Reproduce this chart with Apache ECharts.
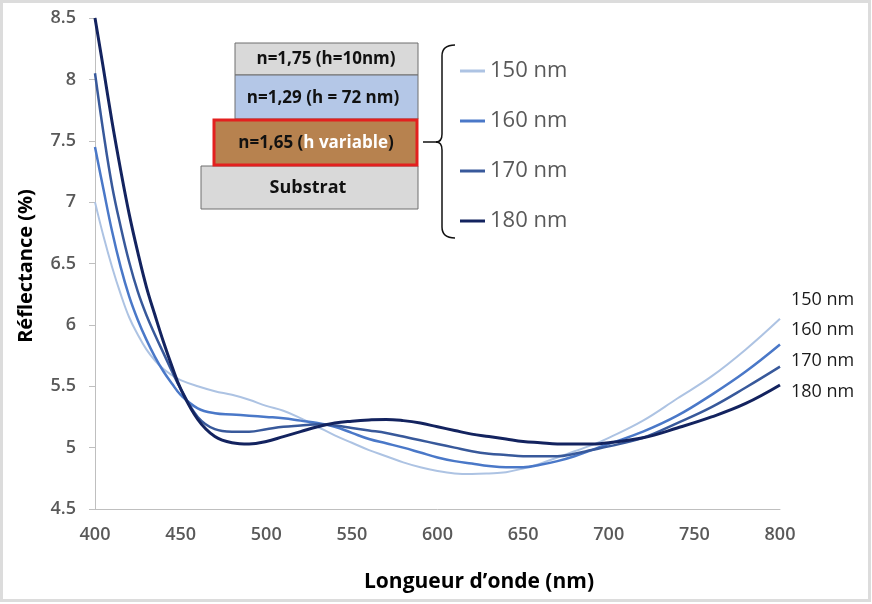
<!DOCTYPE html>
<html><head><meta charset="utf-8">
<script src="https://cdn.jsdelivr.net/npm/echarts@6/dist/echarts.min.js"></script>
<style>html,body{margin:0;padding:0;background:#fff}#c{width:872px;height:604px}</style>
</head><body><div id="c"></div>
<script>
const wavelengths = [400,405,410,415,420,425,430,435,440,445,450,460,470,480,490,500,510,520,530,540,550,560,570,580,590,600,610,620,630,640,650,660,670,680,690,700,720,740,760,780,800];
const r150 = [7.00,6.72,6.47,6.25,6.06,5.92,5.80,5.71,5.64,5.59,5.55,5.50,5.46,5.43,5.39,5.34,5.30,5.24,5.17,5.10,5.04,4.98,4.93,4.88,4.84,4.81,4.79,4.785,4.79,4.80,4.83,4.87,4.92,4.97,5.02,5.08,5.22,5.40,5.58,5.80,6.05];
const r160 = [7.45,7.10,6.76,6.47,6.23,6.04,5.88,5.74,5.62,5.52,5.43,5.32,5.28,5.27,5.26,5.25,5.24,5.22,5.20,5.17,5.12,5.07,5.035,5.00,4.96,4.92,4.89,4.87,4.85,4.84,4.84,4.86,4.89,4.93,4.98,5.03,5.13,5.26,5.43,5.62,5.84];
const r170 = [8.05,7.56,7.13,6.80,6.51,6.27,6.08,5.92,5.77,5.62,5.48,5.25,5.15,5.13,5.13,5.15,5.17,5.18,5.19,5.18,5.16,5.14,5.12,5.09,5.06,5.03,5.00,4.97,4.95,4.94,4.93,4.93,4.93,4.95,4.98,5.01,5.08,5.20,5.33,5.49,5.66];
const r180 = [8.50,8.08,7.65,7.26,6.90,6.59,6.31,6.08,5.86,5.66,5.48,5.23,5.09,5.04,5.03,5.05,5.09,5.13,5.17,5.20,5.215,5.225,5.23,5.22,5.20,5.17,5.14,5.11,5.09,5.07,5.05,5.04,5.03,5.03,5.03,5.04,5.08,5.16,5.25,5.36,5.51];
const seriesNames = ['150 nm','160 nm','170 nm','180 nm'];
const layerLabels = ['n=1,75 (h=10nm)','n=1,29 (h = 72 nm)','n=1,65 (','h variable',')','Substrat'];
const xTitle = 'Longueur d\u2019onde (nm)';
const yTitle = 'R\u00e9flectance (%)';

const FONT = '"Open Sans", sans-serif';
const colors = ['#adc3e3','#4a78c8','#38599b','#13235f'];
const widths = [2,2.5,2.5,3];
const endLabelY = [300,330,361,392];
const allSeries = [r150,r160,r170,r180];

const chart = echarts.init(document.getElementById('c'));
const braceStyle = {fill:'none',stroke:'#111',lineWidth:1.5};
const graphics = [
  {type:'rect', shape:{x:1.5,y:1.5,width:868,height:599}, style:{fill:'none',stroke:'#dcdcdc',lineWidth:3}, silent:true},
  {type:'rect', shape:{x:235,y:43,width:183,height:32}, style:{fill:'#d9d9d9',stroke:'#6f6f6f',lineWidth:1}},
  {type:'rect', shape:{x:235,y:75,width:183,height:44}, style:{fill:'#b4c7e7',stroke:'#6f6f6f',lineWidth:1}},
  {type:'rect', shape:{x:201,y:166,width:217,height:43}, style:{fill:'#d9d9d9',stroke:'#6f6f6f',lineWidth:1}},
  {type:'rect', shape:{x:214,y:120,width:203,height:45}, style:{fill:'#b7824f',stroke:'#e3201f',lineWidth:3}},
  {type:'text', x:326, y:59, style:{text:layerLabels[0], font:'bold 17px '+FONT, fill:'#111', align:'center', verticalAlign:'middle'}},
  {type:'text', x:323, y:98, style:{text:layerLabels[1], font:'bold 17px '+FONT, fill:'#111', align:'center', verticalAlign:'middle'}},
  {type:'text', x:316, y:143, style:{text:'{a|'+layerLabels[2]+'}{b|'+layerLabels[3]+'}{a|'+layerLabels[4]+'}', align:'center', verticalAlign:'middle',
    rich:{a:{font:'bold 17px '+FONT, fill:'#111'}, b:{font:'bold 17px '+FONT, fill:'#fff'}}}},
  {type:'text', x:308, y:188, style:{text:layerLabels[5], font:'bold 18px '+FONT, fill:'#111', align:'center', verticalAlign:'middle'}},
  {type:'bezierCurve', shape:{x1:455,y1:45,x2:442,y2:56,cpx1:442,cpy1:45}, style:braceStyle},
  {type:'line', shape:{x1:442,y1:56,x2:442,y2:134}, style:braceStyle},
  {type:'bezierCurve', shape:{x1:442,y1:134,x2:436,y2:142,cpx1:442,cpy1:142}, style:braceStyle},
  {type:'bezierCurve', shape:{x1:436,y1:142,x2:442,y2:150,cpx1:442,cpy1:142}, style:braceStyle},
  {type:'line', shape:{x1:442,y1:150,x2:442,y2:227}, style:braceStyle},
  {type:'bezierCurve', shape:{x1:442,y1:227,x2:455,y2:238,cpx1:442,cpy1:238}, style:braceStyle},
  {type:'line', shape:{x1:423,y1:142,x2:437,y2:142}, style:braceStyle},
  {type:'text', x:479, y:582, style:{text:xTitle, font:'bold 21px '+FONT, fill:'#000', align:'center', verticalAlign:'middle'}},
  {type:'text', x:26, y:266, rotation:Math.PI/2, style:{text:yTitle, font:'bold 20px '+FONT, fill:'#000', align:'center', verticalAlign:'middle'}}
];
seriesNames.forEach((n,i)=>{
  graphics.push({type:'text', x:791, y:endLabelY[i], style:{text:n, font:'18px '+FONT, fill:'#1a1a1a', align:'left', verticalAlign:'middle'}});
});

chart.setOption({
  animation:false,
  backgroundColor:'#fff',
  grid:{left:95,right:92,top:18,bottom:95,containLabel:false},
  legend:{
    orient:'vertical', left:455, top:55, itemGap:28,
    icon:'rect', itemWidth:25, itemHeight:3,
    textStyle:{fontFamily:FONT, fontSize:22, color:'#595959', lineHeight:22},
    data:seriesNames
  },
  xAxis:{type:'value',min:400,max:800,interval:50,
    axisLine:{show:true,lineStyle:{color:'#bfbfbf',width:1}},
    axisTick:{show:false}, splitLine:{show:false},
    axisLabel:{color:'#595959',fontFamily:FONT,fontWeight:600,fontSize:18,margin:17}
  },
  yAxis:{type:'value',min:4.5,max:8.5,interval:0.5,
    axisLine:{show:true,lineStyle:{color:'#bfbfbf',width:1}},
    axisTick:{show:true,length:6,lineStyle:{color:'#bfbfbf'}}, splitLine:{show:false},
    axisLabel:{color:'#595959',fontFamily:FONT,fontWeight:600,fontSize:18,margin:19}
  },
  series: seriesNames.map((n,i)=>({
    name:n, type:'line', smooth:0.4, showSymbol:false,
    itemStyle:{color:colors[i]},
    lineStyle:{color:colors[i],width:widths[i]},
    data: wavelengths.map((w,j)=>[w, allSeries[i][j]]),
    z: 2+i
  })),
  graphic:graphics
});
</script></body></html>
